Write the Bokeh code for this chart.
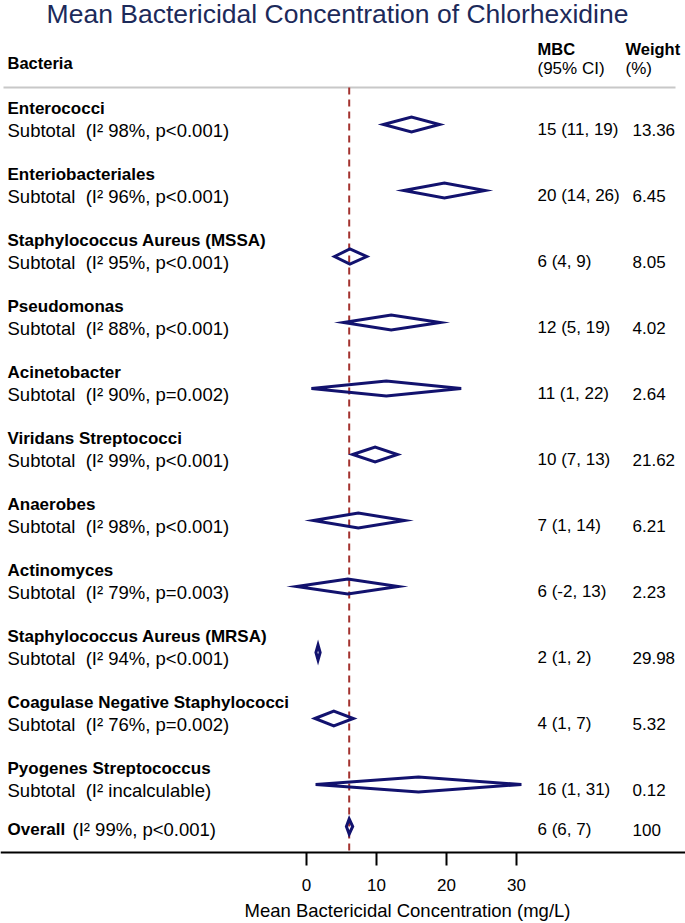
from bokeh.plotting import figure
from bokeh.models import Range1d, FixedTicker
from bokeh.core.properties import value
from bokeh.embed import file_html
from bokeh.resources import INLINE

# ---------------- data ----------------
bacteria = ["Enterococci", "Enteriobacteriales", "Staphylococcus Aureus (MSSA)",
            "Pseudomonas", "Acinetobacter", "Viridans Streptococci", "Anaerobes",
            "Actinomyces", "Staphylococcus Aureus (MRSA)",
            "Coagulase Negative Staphylococci", "Pyogenes Streptococcus"]
heterogeneity = ["I² 98%, p<0.001", "I² 96%, p<0.001", "I² 95%, p<0.001",
                 "I² 88%, p<0.001", "I² 90%, p=0.002", "I² 99%, p<0.001",
                 "I² 98%, p<0.001", "I² 79%, p=0.003", "I² 94%, p<0.001",
                 "I² 76%, p=0.002", "I² incalculable"]
mbc_est = [15.0, 19.7, 6.2, 12.1, 11.4, 9.8, 7.4, 5.9, 1.65, 3.9, 16.0]
mbc_lo = [11.0, 13.9, 4.0, 5.3, 0.7, 6.6, 1.0, -1.4, 1.35, 1.2, 1.3]
mbc_hi = [19.0, 25.5, 8.6, 19.1, 22.1, 13.0, 14.0, 13.1, 1.95, 6.7, 30.7]
mbc_text = ["15 (11, 19)", "20 (14, 26)", "6 (4, 9)", "12 (5, 19)", "11 (1, 22)",
            "10 (7, 13)", "7 (1, 14)", "6 (-2, 13)", "2 (1, 2)", "4 (1, 7)",
            "16 (1, 31)"]
weights = ["13.36", "6.45", "8.05", "4.02", "2.64", "21.62", "6.21", "2.23",
           "29.98", "5.32", "0.12"]
overall_est, overall_lo, overall_hi = 6.1, 5.7, 6.6
overall_text = "6 (6, 7)"
overall_weight = "100"
overall_het = "I² 99%, p<0.001"
x_ticks = [0, 10, 20, 30]
x_title = "Mean Bactericidal Concentration (mg/L)"

# ---------------- layout ----------------
W, H = 685, 923
PX = 7.0            # pixels per mg/L
ROW = 66.0          # pixels per row
ZERO_PX = 306
FIRST_ROW_PX = 124


def px(page_x):
    return (page_x - ZERO_PX) / PX


def py(page_y):
    return (page_y - FIRST_ROW_PX) / ROW


x_start, x_end = px(0), px(W)
y_top, y_bot = py(0), py(H)
axis_y = py(852)

FONT = value("Liberation Sans")
NAVY = "#12126e"
TITLE_C = "#1c2a5a"

p = figure(width=W, height=H, output_backend="svg", toolbar_location=None,
           x_range=Range1d(x_start, x_end), y_range=Range1d(y_bot, y_top),
           y_axis_location=None, min_border_left=0, min_border_right=0,
           min_border_top=0, min_border_bottom=0)
p.grid.visible = False
p.outline_line_color = None
p.background_fill_color = "white"

n = len(bacteria)
rows = list(range(n))
overall_row = py(826)
line_y = py(87)

# header line and reference line
p.segment(x0=[px(3)], x1=[px(675)], y0=[line_y], y1=[line_y],
          line_color="#c8c8c8", line_width=2)
p.segment(x0=[overall_est], x1=[overall_est], y0=[line_y], y1=[axis_y],
          line_color="#a3322f", line_width=2, line_dash="7 5")

# diamonds
hh = 7.5 / ROW
xs = [[lo, e, hi, e] for lo, e, hi in
      zip(mbc_lo + [overall_lo], mbc_est + [overall_est], mbc_hi + [overall_hi])]
ys = [[r, r - hh, r, r + hh] for r in rows + [overall_row]]
p.patches(xs=xs, ys=ys, fill_alpha=0, line_color=NAVY, line_width=3,
          line_join="miter")


def txt(x, y, t, size="17px", bold=False, align="left", color="black"):
    p.text(x=x, y=y, text=t, text_font=FONT, text_font_size=size,
           text_font_style="bold" if bold else "normal", text_align=align,
           text_baseline="middle", text_color=color)


lab_x = px(7)
mbc_x = px(537)
wt_x = px(632)
wth_x = px(625)

# title
txt([px(337)], [py(13)], ["Mean Bactericidal Concentration of Chlorhexidine"],
    size="26.5px", align="center", color=TITLE_C)
# headers
txt([lab_x], [py(62)], ["Bacteria"], size="16.5px", bold=True)
txt([mbc_x, wth_x], [py(48)] * 2, ["MBC", "Weight"], size="16.5px", bold=True)
txt([mbc_x, wth_x], [py(68)] * 2, ["(95% CI)", "(%)"])

# rows
txt([lab_x] * n, [r - 16 / ROW for r in rows], bacteria, size="17px", bold=True)
txt([lab_x] * n, [r + 6 / ROW for r in rows],
    ["Subtotal\u00a0 (" + h + ")" for h in heterogeneity], size="18.5px")
txt([mbc_x] * n, [r + 5 / ROW for r in rows], mbc_text)
txt([wt_x] * n, [r + 5 / ROW for r in rows], weights)

# overall
txt([lab_x], [overall_row + 3 / ROW], ["Overall"], size="17px", bold=True)
txt([px(72)], [overall_row + 3 / ROW], ["(" + overall_het + ")"], size="18.5px")
txt([mbc_x], [overall_row + 3 / ROW], [overall_text])
txt([wt_x], [overall_row + 3 / ROW], [overall_weight])

# axis (drawn at a fixed location inside the frame)
ax = p.xaxis[0]
ax.fixed_location = axis_y
ax.ticker = FixedTicker(ticks=x_ticks)
ax.minor_tick_line_color = None
ax.major_tick_in = 0
ax.major_tick_out = 13
ax.major_tick_line_width = 2
ax.major_tick_line_color = "black"
ax.axis_line_width = 2
ax.axis_line_color = "black"
ax.major_label_text_font = "Liberation Sans"
ax.major_label_text_font_size = "17px"
ax.major_label_text_color = "black"
ax.major_label_standoff = 13

# axis title, centred under the tick range
txt([px(407)], [py(910)], [x_title], size="18.5px", align="center")

open("out.html", "w").write(file_html(p, INLINE))
